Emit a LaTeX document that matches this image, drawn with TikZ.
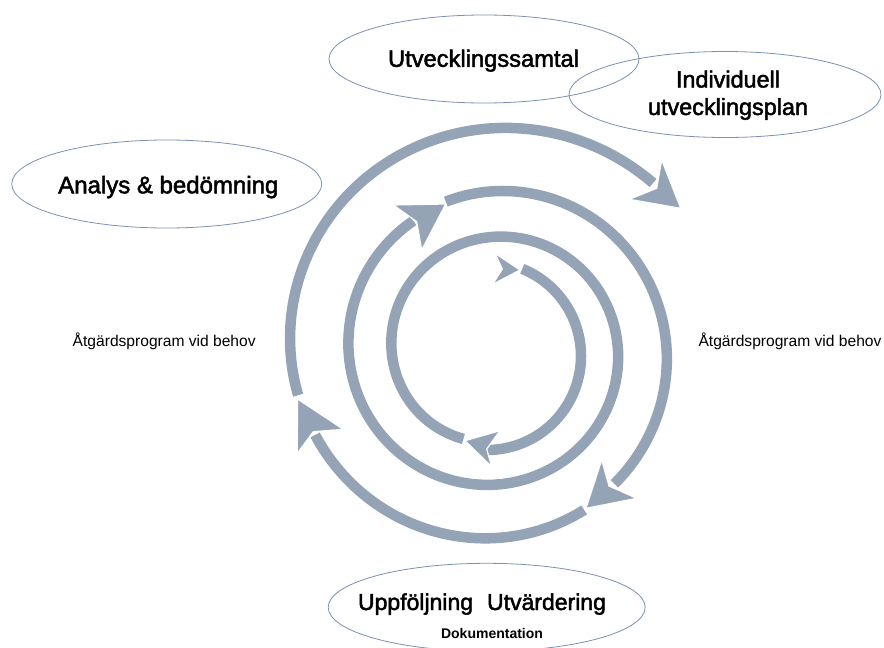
\documentclass[tikz,border=0pt]{standalone}
\usepackage{fontspec}
\setmainfont{Liberation Sans}
\newfontfamily\medfont{Liberation Sans}[FakeBold=2]
\usetikzlibrary{shapes.geometric}
\definecolor{bandc}{RGB}{148,163,181}
\definecolor{ringc}{RGB}{122,144,180}
% cx cy t0 t1 r0 r1
\newcommand\myspiral[6]{%
  \draw[band] plot[domain=#3:#4, samples=180, variable=\t]
   ({#1+((#5)+((#6)-(#5))/((#4)-(#3))*(\t-(#3)))*cos(\t)},
    {#2+((#5)+((#6)-(#5))/((#4)-(#3))*(\t-(#3)))*sin(\t)});}
\begin{document}
\begin{tikzpicture}[x=1pt, y=-1pt,
  band/.style={draw=bandc, line width=10.5pt, line cap=butt},
  ahead/.style={fill=bandc, draw=white, line width=1.2pt, line join=miter},
  bubble/.style={ellipse, draw=ringc, line width=0.8pt, inner sep=0pt},
  lbl/.style={inner sep=0pt, anchor=base}]
\useasboundingbox (0,0) rectangle (884,648);

% spiral bands (screen coordinates, angles clockwise)
\myspiral{487}{356}{-68}{90}{94}{94}
\myspiral{494}{350}{109}{598}{94}{152.4}
\myspiral{494}{350}{252}{408}{156}{180}
\myspiral{494}{350}{420.6}{514.6}{183.6}{198}
\myspiral{494}{350}{527}{673.6}{201}{230.6}

% arrow heads
\draw[ahead] (495,253.3) -- (520,270) -- (492.7,284.3) -- (502.3,269) -- cycle;
\draw[ahead] (500,430.7) -- (465,440.7) -- (491.7,466.7) -- (486.7,449) -- cycle;
\draw[ahead] (393.3,205) -- (445.7,204) -- (421.7,250) -- (416.7,221.7) -- cycle;
\draw[ahead] (601.7,460) -- (586,508.3) -- (636.7,498.3) -- (609,486) -- cycle;
\draw[ahead] (343.3,429.3) -- (297.5,399) -- (297.3,453.3) -- (313.3,431.7) -- cycle;
\draw[ahead] (661.7,160) -- (680.7,208.3) -- (629.3,199.3) -- (656.7,188.3) -- cycle;

% ellipses
\node[bubble, minimum width=310pt, minimum height=88pt] (utv) at (484,59) {};
\node[bubble, minimum width=312pt, minimum height=86pt] (iup) at (725,94.5) {};
\node[bubble, minimum width=310pt, minimum height=88pt] (ana) at (166.7,184) {};
\node[bubble, minimum width=317pt, minimum height=88pt] (upp) at (486.7,607.3) {};

% texts
\node[lbl, font=\medfont\fontsize{23.7}{28}\selectfont] (utvT) at (483.5,66.8) {Utvecklingssamtal};
\node[inner sep=0pt, align=center, font=\medfont\fontsize{23.4}{27.5}\selectfont] (iupT) at (728,95.2) {Individuell\\utvecklingsplan};
\node[lbl, font=\medfont\fontsize{24}{28}\selectfont] (anaT) at (168.3,193.3) {Analys \& bedömning};
\node[lbl, font=\medfont\fontsize{23}{27}\selectfont] (uppT) at (482,610) {Uppföljning\hspace{14pt}Utvärdering};
\node[lbl, font=\bfseries\fontsize{14}{16}\selectfont] (dokT) at (492,638.3) {Dokumentation};
\node[lbl, font=\fontsize{15.6}{18}\selectfont] (atgL) at (164.2,346.7) {Åtgärdsprogram vid behov};
\node[lbl, font=\fontsize{15.6}{18}\selectfont] (atgR) at (790,346.7) {Åtgärdsprogram vid behov};
\end{tikzpicture}
\end{document}
